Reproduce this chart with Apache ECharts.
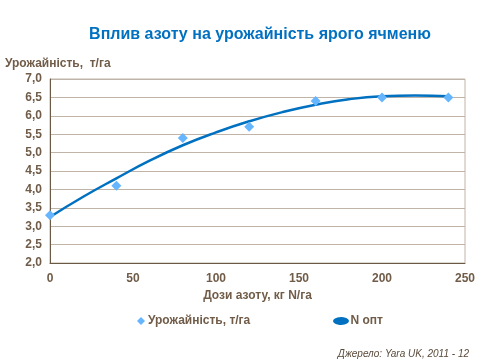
<!DOCTYPE html>
<html><head><meta charset="utf-8">
<script src="https://cdn.jsdelivr.net/npm/echarts@6/dist/echarts.min.js"></script>
<style>html,body{margin:0;padding:0;background:#fff}#c{width:480px;height:360px}</style>
</head><body><div id="c"></div>
<script>
const doses = [0, 40, 80, 120, 160, 200, 240];
const yields = [3.3, 4.1, 5.4, 5.7, 6.4, 6.5, 6.5];
const curveX = [0, 20, 40, 60, 80, 100, 120, 140, 160, 180, 200, 220, 240];
const curveY = [3.25, 3.8, 4.3, 4.78, 5.2, 5.55, 5.85, 6.1, 6.3, 6.45, 6.53, 6.55, 6.53];
const title = 'Вплив азоту на урожайність ярого ячменю';
const yName = 'Урожайність,  т/га';
const xName = 'Дози азоту, кг N/га';
const s1Name = 'Урожайність, т/га';
const s2Name = 'N опт';
const source = 'Джерело: Yara UK, 2011 - 12';

const txt = '#705C48';
const font = 'Liberation Sans, Arial, sans-serif';
const chart = echarts.init(document.getElementById('c'), null, {renderer: 'canvas'});
chart.setOption({
  animation: false,
  textStyle: {fontFamily: font},
  title: [
    {text: title, left: 255, top: 22, textAlign: 'center',
     textStyle: {color: '#0070C0', fontSize: 16, fontWeight: 'bold', fontFamily: font}},
    {text: source, right: 6, top: 344,
     textStyle: {color: '#5A4A3A', fontSize: 10, fontStyle: 'italic', fontWeight: 'normal', fontFamily: font}}
  ],
  grid: {left: 50, right: 15, top: 79, bottom: 97, show: true, borderColor: '#C0B4A8', borderWidth: 1},
  xAxis: {
    type: 'value', min: 0, max: 250, interval: 50,
    name: xName, nameLocation: 'middle', nameGap: 22,
    nameTextStyle: {color: txt, fontSize: 12, fontWeight: 'bold', fontFamily: font},
    axisLine: {show: true, lineStyle: {color: '#6B5A45'}},
    axisTick: {show: false},
    splitLine: {show: false},
    axisLabel: {color: txt, fontSize: 12, fontWeight: 'bold', margin: 10, fontFamily: font}
  },
  yAxis: {
    type: 'value', min: 2, max: 7, interval: 0.5,
    name: yName, nameLocation: 'end', nameGap: 9,
    nameTextStyle: {color: txt, fontSize: 12, fontWeight: 'bold', align: 'left', padding: [0, 0, 0, -45], fontFamily: font},
    axisLine: {show: true, lineStyle: {color: '#6B5A45'}},
    axisTick: {show: false},
    splitLine: {show: true, lineStyle: {color: '#C0B4A8'}},
    axisLabel: {color: txt, fontSize: 12, fontWeight: 'bold', margin: 8, fontFamily: font,
      formatter: v => v.toFixed(1).replace('.', ',')}
  },
  legend: [
    {data: [{name: s1Name, icon: 'diamond'}], left: 132, top: 310, itemWidth: 8, itemHeight: 8, itemGap: 4,
     textStyle: {color: txt, fontSize: 12, fontWeight: 'bold', fontFamily: font, padding: [0, 0, 0, -2]}},
    {data: [{name: s2Name, icon: 'path://M0,5A10,5 0 1,0 20,0A10,5 0 1,0 0,5Z'}], left: 328, top: 310, itemWidth: 17, itemHeight: 8, itemGap: 2,
     textStyle: {color: txt, fontSize: 12, fontWeight: 'bold', fontFamily: font, padding: [0, 0, 0, -4]}}
  ],
  series: [
    {name: s2Name, type: 'line', smooth: true, symbol: 'none',
     data: curveX.map((x, i) => [x, curveY[i]]),
     lineStyle: {color: '#0070C0', width: 2.5}, itemStyle: {color: '#0070C0'}, z: 2},
    {name: s1Name, type: 'scatter', symbol: 'diamond', symbolSize: 10,
     data: doses.map((x, i) => [x, yields[i]]),
     itemStyle: {color: '#66B5FF', opacity: 1}, z: 3}
  ]
});
</script></body></html>
